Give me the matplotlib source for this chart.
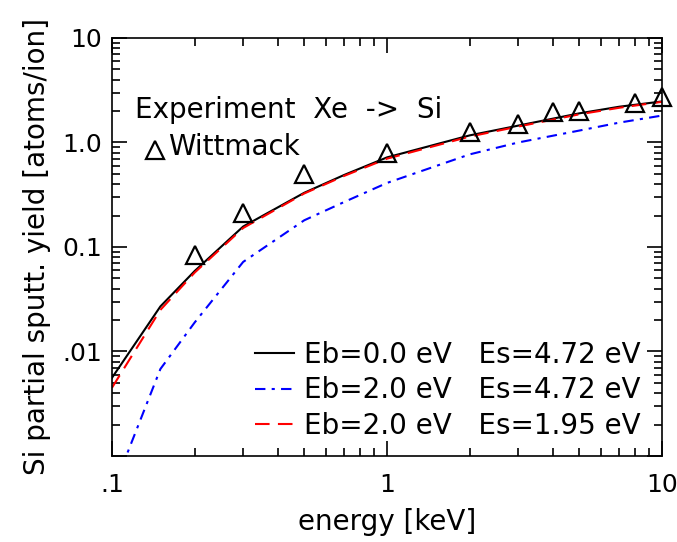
import numpy as np
import matplotlib.pyplot as plt
from matplotlib.ticker import FixedLocator, LogLocator, NullFormatter

plt.rcParams['font.family'] = 'DejaVu Sans'
plt.rcParams['font.size'] = 20

# simulated yields (nodes of the polylines)
energy = [0.1, 0.15, 0.2, 0.3, 0.5, 0.7, 1.0, 2.0, 3.0, 5.0, 7.0, 10.0]
y_eb0_es472 = [0.0056, 0.027, 0.059, 0.157, 0.33, 0.49, 0.72, 1.17, 1.45, 1.9, 2.2, 2.47]
y_eb2_es472 = [0.00045, 0.0068, 0.019, 0.072, 0.18, 0.27, 0.41, 0.77, 1.0, 1.3, 1.55, 1.81]
y_eb2_es195 = [0.0045, 0.025, 0.057, 0.152, 0.325, 0.48, 0.70, 1.14, 1.42, 1.86, 2.15, 2.45]

# Wittmack experiment
exp_energy = [0.2, 0.3, 0.5, 1.0, 2.0, 3.0, 4.0, 5.0, 8.0, 10.0]
exp_yield = [0.083, 0.21, 0.50, 0.80, 1.27, 1.50, 1.94, 2.0, 2.41, 2.7]

labels = ['Eb=0.0 eV   Es=4.72 eV',
          'Eb=2.0 eV   Es=4.72 eV',
          'Eb=2.0 eV   Es=1.95 eV']

fig = plt.figure(figsize=(6.77, 5.42), dpi=100)
ax = fig.add_axes([0.1654, 0.1587, 0.8124, 0.7712])

ax.plot(energy, y_eb0_es472, color='black', lw=1.5, label=labels[0])
ax.plot(energy, y_eb2_es472, color='blue', lw=1.5, dashes=(5, 3, 1.5, 3), label=labels[1])
ax.plot(energy, y_eb2_es195, color='red', lw=1.5, dashes=(7, 4), label=labels[2])
ax.plot(exp_energy, exp_yield, ls='none', marker='^', ms=13, mfc='none', mec='black',
        mew=1.6, clip_on=False)

ax.set_xscale('log')
ax.set_yscale('log')
ax.set_xlim(0.1, 10)
ax.set_ylim(0.001, 10)

ax.xaxis.set_major_locator(FixedLocator([0.1, 1, 10]))
ax.set_xticklabels(['.1', '1', '10'])
ax.xaxis.set_minor_locator(LogLocator(base=10, subs=np.arange(2, 10)))
ax.xaxis.set_minor_formatter(NullFormatter())
ax.yaxis.set_major_locator(FixedLocator([0.001, 0.01, 0.1, 1, 10]))
ax.set_yticklabels(['', '.01', '0.1', '1.0', '10'])
ax.yaxis.set_minor_locator(LogLocator(base=10, subs=np.arange(2, 10)))
ax.yaxis.set_minor_formatter(NullFormatter())

ax.tick_params(which='both', direction='in', top=True, right=True, width=1.2, labelsize=18)
ax.tick_params(which='major', length=11)
ax.tick_params(which='minor', length=6)
ax.tick_params(axis='x', which='major', pad=12)
ax.tick_params(axis='y', which='major', pad=7)
for s in ax.spines.values():
    s.set_linewidth(1.2)

ax.set_xlabel('energy [keV]', labelpad=8)
ax.set_ylabel('Si partial sputt. yield [atoms/ion]', labelpad=8)

ax.text(0.042, 0.828, 'Experiment  Xe  ->  Si', transform=ax.transAxes, va='center', ha='left')
ax.plot([0.078], [0.732], transform=ax.transAxes, ls='none', marker='^', ms=13,
        mfc='none', mec='black', mew=1.6, clip_on=False)
ax.text(0.102, 0.739, 'Wittmack', transform=ax.transAxes, va='center', ha='left')

ax.legend(loc='lower left', bbox_to_anchor=(0.24, 0.012), frameon=False,
          handlelength=1.4, handletextpad=0.35, labelspacing=0.27, borderaxespad=0)

fig.savefig('out.png', dpi=100)
